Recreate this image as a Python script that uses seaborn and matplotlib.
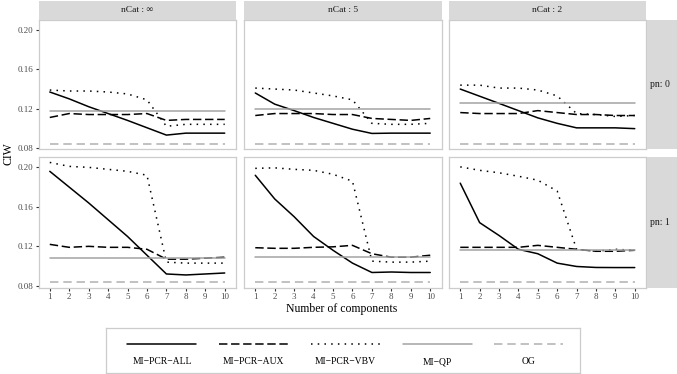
import numpy as np
import pandas as pd
import seaborn as sns
import matplotlib
matplotlib.use('Agg')
import matplotlib.pyplot as plt

# categories
methods = ['MI−PCR−ALL', 'MI−PCR−AUX', 'MI−PCR−VBV', 'MI−QP', 'OG']
ncat_levels = ['∞', '5', '2']
pn_levels = [0, 1]
ncomp = list(range(1, 11))

# CIW, pn = 0
all_p0_inf = [0.137, 0.130, 0.122, 0.115, 0.108, 0.1005, 0.093, 0.095, 0.095, 0.095]
aux_p0_inf = [0.111, 0.115, 0.114, 0.114, 0.114, 0.115, 0.108, 0.109, 0.109, 0.109]
vbv_p0_inf = [0.139, 0.138, 0.138, 0.137, 0.135, 0.129, 0.102, 0.104, 0.104, 0.104]

all_p0_5 = [0.136, 0.1246, 0.118, 0.111, 0.105, 0.099, 0.0947, 0.095, 0.095, 0.095]
aux_p0_5 = [0.113, 0.115, 0.115, 0.115, 0.114, 0.114, 0.110, 0.109, 0.108, 0.110]
vbv_p0_5 = [0.141, 0.140, 0.139, 0.136, 0.133, 0.129, 0.105, 0.104, 0.104, 0.105]

all_p0_2 = [0.140, 0.1327, 0.1254, 0.118, 0.1106, 0.105, 0.1004, 0.1004, 0.1004, 0.0996]
aux_p0_2 = [0.116, 0.115, 0.115, 0.115, 0.118, 0.116, 0.114, 0.114, 0.113, 0.113]
vbv_p0_2 = [0.144, 0.144, 0.141, 0.141, 0.139, 0.133, 0.115, 0.114, 0.112, 0.113]

# pn = 1
all_p1_inf = [0.196, 0.180, 0.164, 0.147, 0.130, 0.111, 0.092, 0.091, 0.092, 0.093]
aux_p1_inf = [0.122, 0.119, 0.120, 0.119, 0.119, 0.117, 0.107, 0.107, 0.108, 0.109]
vbv_p1_inf = [0.205, 0.201, 0.200, 0.198, 0.196, 0.192, 0.104, 0.103, 0.103, 0.103]

all_p1_5 = [0.192, 0.168, 0.150, 0.130, 0.116, 0.103, 0.0935, 0.094, 0.0935, 0.0935]
aux_p1_5 = [0.1186, 0.118, 0.118, 0.119, 0.1195, 0.121, 0.1125, 0.109, 0.109, 0.111]
vbv_p1_5 = [0.199, 0.1995, 0.198, 0.197, 0.193, 0.186, 0.105, 0.104, 0.104, 0.105]

all_p1_2 = [0.184, 0.144, 0.131, 0.117, 0.1125, 0.103, 0.0996, 0.0986, 0.0985, 0.0985]
aux_p1_2 = [0.119, 0.119, 0.119, 0.119, 0.121, 0.119, 0.117, 0.115, 0.115, 0.116]
vbv_p1_2 = [0.2005, 0.197, 0.1945, 0.191, 0.187, 0.176, 0.117, 0.115, 0.117, 0.116]

# flat reference methods, one value per panel (pn0: inf,5,2 then pn1: inf,5,2)
qp_vals = [0.118, 0.120, 0.126, 0.108, 0.109, 0.116]
og_vals = [0.084, 0.084, 0.084, 0.084, 0.084, 0.084]

pcr_series = {
    (0, '∞'): (all_p0_inf, aux_p0_inf, vbv_p0_inf),
    (0, '5'): (all_p0_5, aux_p0_5, vbv_p0_5),
    (0, '2'): (all_p0_2, aux_p0_2, vbv_p0_2),
    (1, '∞'): (all_p1_inf, aux_p1_inf, vbv_p1_inf),
    (1, '5'): (all_p1_5, aux_p1_5, vbv_p1_5),
    (1, '2'): (all_p1_2, aux_p1_2, vbv_p1_2),
}

rows = []
k = 0
for pn in pn_levels:
    for nc in ncat_levels:
        series = list(pcr_series[(pn, nc)]) + [[qp_vals[k]] * 10, [og_vals[k]] * 10]
        for m, vals in zip(methods, series):
            for x, v in zip(ncomp, vals):
                rows.append({'pn': pn, 'nCat': nc, 'method': m, 'ncomp': x, 'CIW': v})
        k += 1
df = pd.DataFrame(rows)

# styles
palette = {'MI−PCR−ALL': 'black', 'MI−PCR−AUX': 'black', 'MI−PCR−VBV': 'black',
           'MI−QP': '#A3A3A3', 'OG': '#B0B0B0'}
dashes = {'MI−PCR−ALL': '', 'MI−PCR−AUX': (5.5, 2.4), 'MI−PCR−VBV': (1, 3.4),
          'MI−QP': '', 'OG': (5.5, 3.2)}
LW = 1.1

sns.set_theme(style='white')
plt.rcParams['font.family'] = ['Liberation Serif', 'DejaVu Serif']

W, H = 677, 374
fig = plt.figure(figsize=(W / 100, H / 100), dpi=100)


def rect(x0, y0, x1, y1):
    return [x0 / W, 1 - y1 / H, (x1 - x0) / W, (y1 - y0) / H]


col_x = [(38.5, 236), (244, 441.5), (449, 646)]
row_y = [(20, 149.5), (157, 287.5)]
strip_col = '#D9D9D9'
border_col = '#CCCCCC'

for i, pn in enumerate(pn_levels):
    for j, nc in enumerate(ncat_levels):
        x0, x1 = col_x[j]
        y0, y1 = row_y[i]
        ax = fig.add_axes(rect(x0, y0, x1, y1))
        sub = df[(df['pn'] == pn) & (df['nCat'] == nc)]
        sns.lineplot(data=sub, x='ncomp', y='CIW', hue='method', style='method',
                     hue_order=methods, style_order=methods, palette=palette,
                     dashes=dashes, linewidth=LW, legend=False, ax=ax,
                     errorbar=None)
        ax.set_xlim(0.42, 10.58)
        ax.set_ylim(0.0783, 0.2105)
        ax.set_xticks(ncomp)
        ax.set_yticks([0.08, 0.12, 0.16, 0.20])
        ax.set_xlabel('')
        ax.set_ylabel('')
        for s in ax.spines.values():
            s.set_color(border_col)
            s.set_linewidth(0.9)
        ax.tick_params(length=2.5, width=0.8, color='#333333', labelsize=6.5,
                       labelcolor='#4D4D4D', pad=1.5,
                       bottom=(i == 1), labelbottom=(i == 1),
                       left=(j == 0), labelleft=(j == 0))
        if j == 0:
            ax.set_yticklabels(['0.08', '0.12', '0.16', '0.20'])

        # facet strip on top
        if i == 0:
            sax = fig.add_axes(rect(x0, 0.5, x1, 19.5))
            sax.set_facecolor(strip_col)
            sax.set_xticks([])
            sax.set_yticks([])
            for s in sax.spines.values():
                s.set_visible(False)
            sax.text(0.5, 0.5, 'nCat : ' + nc, ha='center', va='center',
                     fontsize=6.8, color='#1A1A1A', transform=sax.transAxes)

    # facet strip on the right
    y0, y1 = row_y[i]
    rax = fig.add_axes(rect(646.5, y0, 677, y1))
    rax.set_facecolor(strip_col)
    rax.set_xticks([])
    rax.set_yticks([])
    for s in rax.spines.values():
        s.set_visible(False)
    rax.text(0.45, 0.5, 'pn: %d' % pn, ha='center', va='center',
             fontsize=7, color='#1A1A1A', transform=rax.transAxes)

fig.text(8 / W, 1 - 154 / H, 'CIW', rotation=90, ha='center', va='center',
         fontsize=8.5, color='black')
fig.text(342 / W, 1 - 309 / H, 'Number of components', ha='center',
         va='center', fontsize=8.5, color='black')

# legend box: key line above its label
lax = fig.add_axes(rect(106, 328, 580, 373))
lax.set_xlim(0, 474)
lax.set_ylim(45, 0)
lax.set_xticks([])
lax.set_yticks([])
for s in lax.spines.values():
    s.set_color(border_col)
    s.set_linewidth(0.9)
for n, m in enumerate(methods):
    cx = 56 + n * 91.75
    ls = '-' if dashes[m] == '' else (0, dashes[m])
    lax.plot([cx - 34.5, cx + 34.5], [16, 16], color=palette[m],
             linestyle=ls, linewidth=LW)
    lax.text(cx, 34, m, ha='center', va='center', fontsize=6.9, color='black')

fig.savefig('out.png', dpi=100)
